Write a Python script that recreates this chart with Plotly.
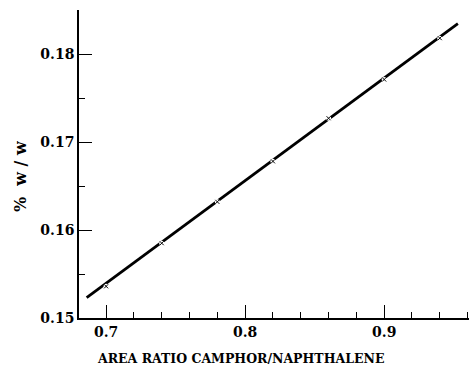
import plotly.graph_objects as go

# measured data points (area ratio, % w/w)
ratio = [0.70, 0.74, 0.78, 0.82, 0.86, 0.90, 0.94]
conc = [0.1536, 0.1585, 0.1632, 0.1678, 0.1727, 0.1771, 0.1818]

# calibration line end points
fit_x = [0.686, 0.953]
fit_y = [0.15232, 0.18345]

x_ticks = [0.7, 0.8, 0.9]
y_ticks = [0.15, 0.16, 0.17, 0.18]

FONT = "DejaVu Serif"

fig = go.Figure()
fig.add_trace(go.Scatter(x=fit_x, y=fit_y, mode="lines",
                         line=dict(color="black", width=2.8), hoverinfo="skip"))
fig.add_trace(go.Scatter(x=ratio, y=conc, mode="markers",
                         marker=dict(symbol="circle", size=5, color="white",
                                     line=dict(width=0))))
fig.add_trace(go.Scatter(x=ratio, y=conc, mode="markers",
                         marker=dict(symbol="x-thin", size=4, color="black",
                                     line=dict(width=1, color="black"))))

axis_common = dict(showgrid=False, zeroline=False, showline=True, linecolor="black",
                   linewidth=1.5, ticks="inside", ticklen=13, tickwidth=1.3,
                   tickcolor="black", mirror=False,
                   tickfont=dict(family=FONT, size=14, color="black", weight="bold"))

fig.update_xaxes(range=[0.6805, 0.961], tickvals=x_ticks,
                 ticktext=[f"{v:.1f}" for v in x_ticks],
                 minor=dict(ticks="inside", ticklen=6, tickwidth=1, tickcolor="black",
                            dtick=0.02, tick0=0.7),
                 **axis_common)
fig.update_yaxes(range=[0.15, 0.185], tickvals=y_ticks,
                 ticktext=[f"{v:.2f}" for v in y_ticks],
                 minor=dict(ticks="inside", ticklen=6, tickwidth=1, tickcolor="black",
                            dtick=0.005, tick0=0.15),
                 **axis_common)

fig.add_annotation(text="%  w / w", xref="paper", yref="paper", x=-0.151, y=0.461,
                   textangle=-90, showarrow=False, xanchor="center", yanchor="middle",
                   font=dict(family=FONT, size=16, color="black", weight="bold"))
fig.add_annotation(text="AREA RATIO CAMPHOR/NAPHTHALENE", xref="paper", yref="paper",
                   x=0.415, y=-0.161, showarrow=False, xanchor="center", yanchor="bottom",
                   font=dict(family=FONT, size=12.5, color="black", weight="bold"))

fig.update_layout(width=469, height=368, margin=dict(l=79, r=0, t=10, b=50),
                  paper_bgcolor="white", plot_bgcolor="white", showlegend=False)

fig.write_html("out.html")
